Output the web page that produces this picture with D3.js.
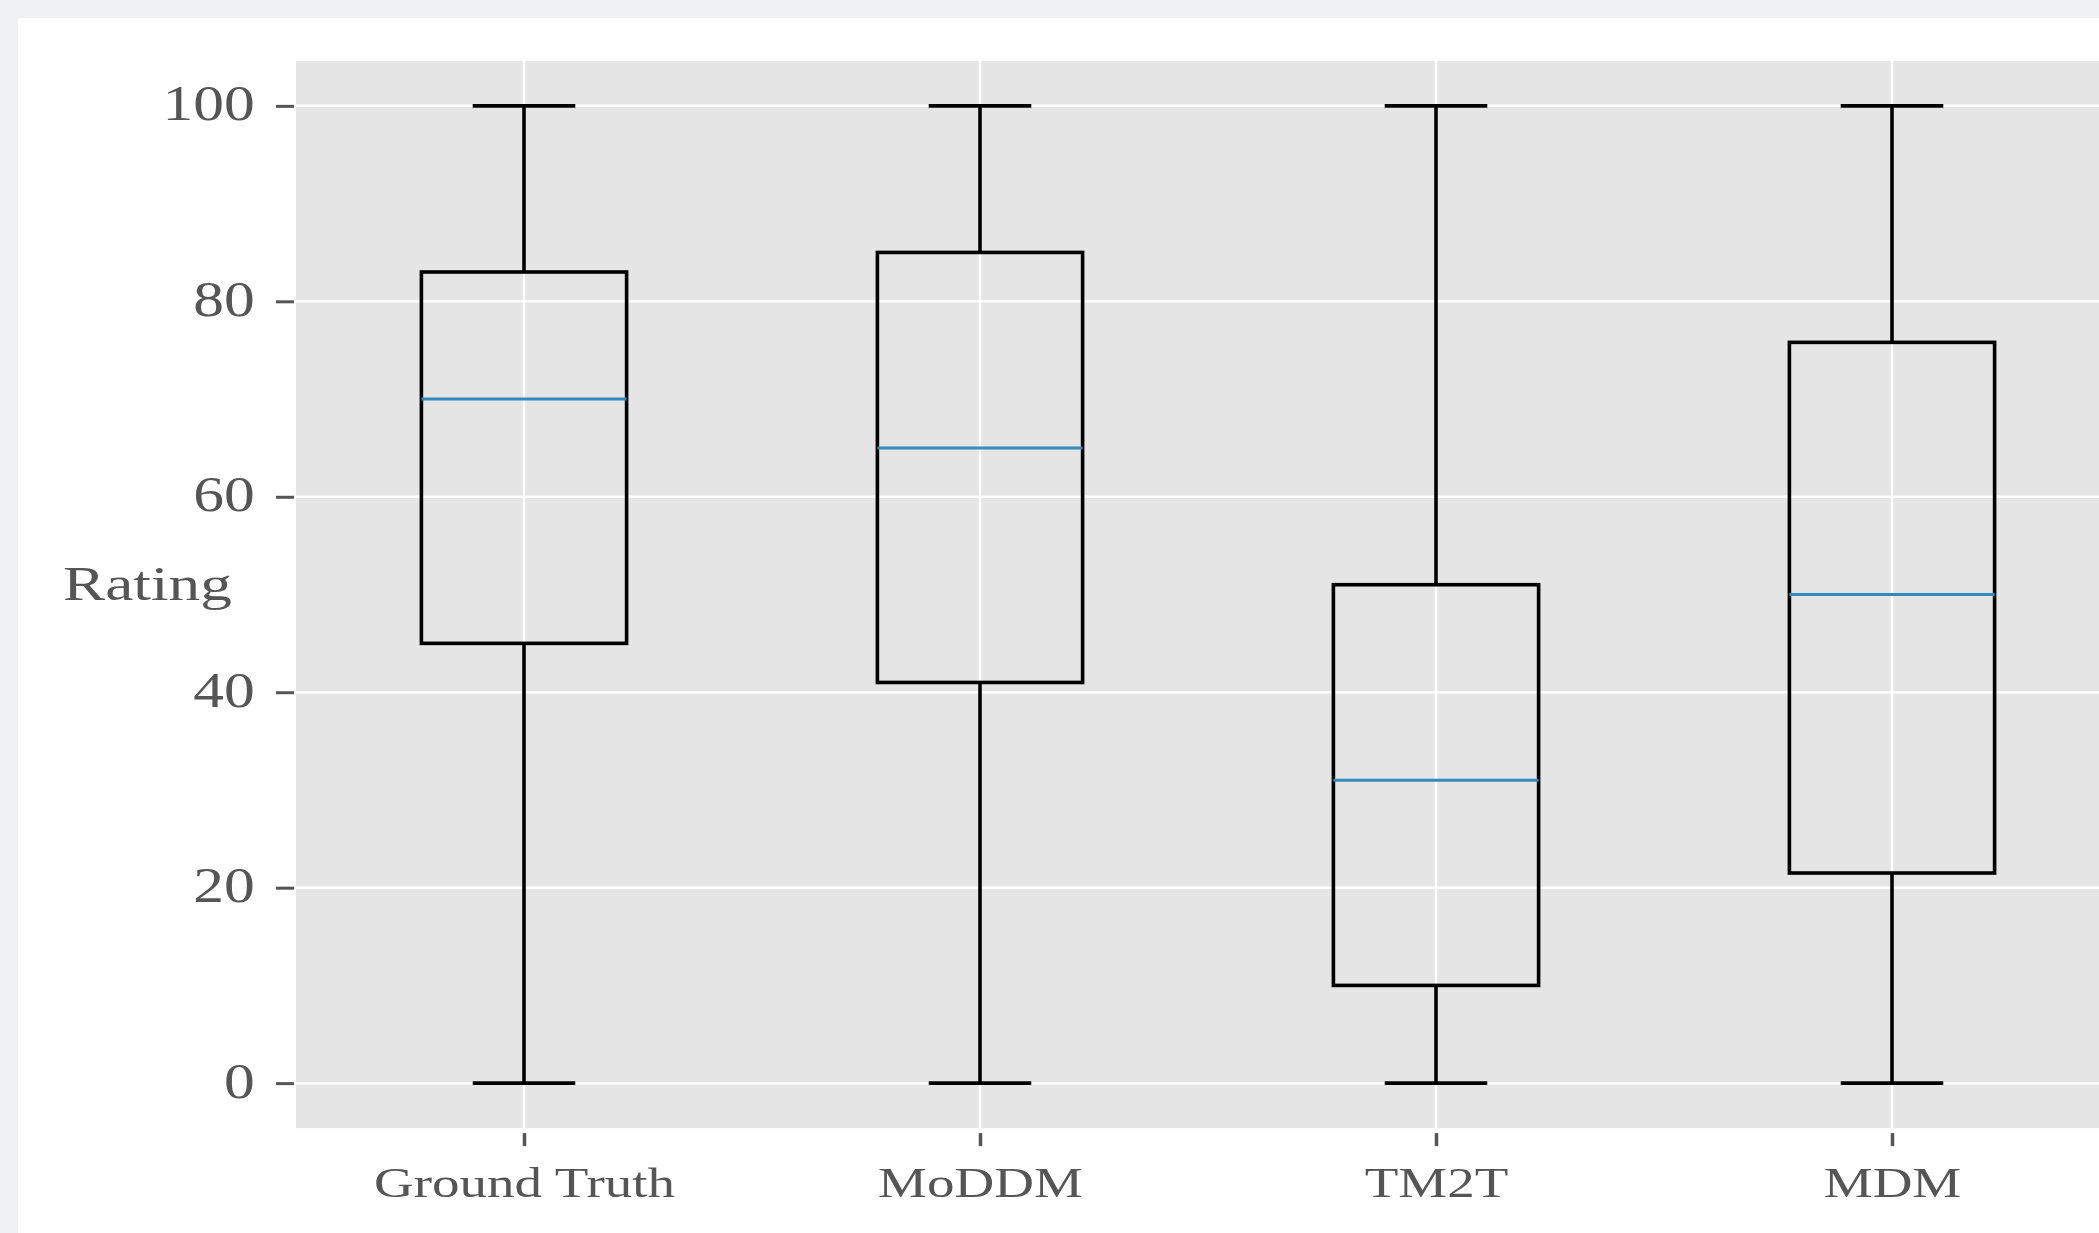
<!DOCTYPE html>
<html>
<head>
<meta charset="utf-8">
<script src="https://cdn.jsdelivr.net/npm/d3@7"></script>
<style>
  html, body { margin: 0; padding: 0; background: #f0f1f3; }
  svg { display: block; }
</style>
</head>
<body>
<svg id="chart" width="2099" height="1233"></svg>
<script>
const categories = ["Ground Truth", "MoDDM", "TM2T", "MDM"];
const whiskerLow = [0, 0, 0, 0];
const q1 = [45, 41, 10, 21.5];
const median = [70, 65, 31, 50];
const q3 = [83, 85, 51, 75.8];
const whiskerHigh = [100, 100, 100, 100];
const yTicks = [0, 20, 40, 60, 80, 100];
const yLabel = "Rating";

const W = 2099, H = 1233;
const svg = d3.select("#chart");

// white figure panel
svg.append("rect").attr("x", 18).attr("y", 18).attr("width", W - 18).attr("height", H - 18).attr("fill", "#ffffff");

const x = d3.scaleLinear().domain([0.5, 4.5]).range([296, 2120]);
const y = d3.scaleLinear().domain([-5, 105]).range([1132, 57]);

const data = categories.map((c, i) => ({
  name: c, pos: i + 1,
  lo: whiskerLow[i], q1: q1[i], med: median[i], q3: q3[i], hi: whiskerHigh[i]
}));

const boxW = x(1.45) - x(1);   // full box width in px
const capW = boxW / 2;
const yTop = 104.6, yBot = -4.6;

// axes background
svg.append("rect")
  .attr("x", x(0.5)).attr("y", y(yTop))
  .attr("width", x(4.5) - x(0.5)).attr("height", y(yBot) - y(yTop))
  .attr("fill", "#e5e5e5");

// grid
const grid = svg.append("g");
grid.selectAll("line.h").data(yTicks).join("line")
  .attr("x1", x(0.5)).attr("x2", x(4.5))
  .attr("y1", d => y(d)).attr("y2", d => y(d))
  .attr("stroke", "#ffffff").attr("stroke-width", 2.5);
grid.selectAll("line.v").data(data).join("line")
  .attr("x1", d => x(d.pos)).attr("x2", d => x(d.pos))
  .attr("y1", y(yTop)).attr("y2", y(yBot))
  .attr("stroke", "#ffffff").attr("stroke-width", 2.5);

// y axis ticks and labels
const yAxis = svg.append("g").attr("transform", `translate(${x(0.5) - 2},0)`)
  .call(d3.axisLeft(y).tickValues(yTicks).tickSize(18).tickPadding(14).tickFormat(d3.format("d")));
yAxis.select(".domain").remove();
yAxis.selectAll(".tick line").attr("stroke", "#555555").attr("stroke-width", 3);
yAxis.selectAll(".tick text")
  .attr("fill", "#555555")
  .attr("font-family", "'Liberation Serif', 'Times New Roman', serif")
  .attr("font-size", 50)
  .attr("dy", null).attr("y", 0)
  .attr("dominant-baseline", "central")
  .attr("text-anchor", "end")
  .attr("transform", "translate(0,-3) scale(1.23,1)");

// x axis ticks and labels
const xAxis = svg.append("g").attr("transform", `translate(0,${y(yBot) + 5})`)
  .call(d3.axisBottom(x).tickValues(data.map(d => d.pos)).tickSize(13).tickPadding(0).tickFormat((d, i) => categories[i]));
xAxis.select(".domain").remove();
xAxis.selectAll(".tick line").attr("stroke", "#555555").attr("stroke-width", 3.5);
xAxis.selectAll(".tick text")
  .attr("fill", "#555555")
  .attr("font-family", "'Liberation Serif', 'Times New Roman', serif")
  .attr("font-size", 42)
  .attr("dy", null).attr("y", 0)
  .attr("transform", "translate(0,64) scale(1.31,1)");

// y label
svg.append("text")
  .attr("transform", "translate(63,600) scale(1.32,1)")
  .attr("fill", "#555555")
  .attr("font-family", "'Liberation Serif', 'Times New Roman', serif")
  .attr("font-size", 48)
  .text(yLabel);

// boxes
const g = svg.append("g");
const bp = g.selectAll("g.box").data(data).join("g").attr("class", "box");
const lw = 3.6;
// whiskers
bp.append("line").attr("x1", d => x(d.pos)).attr("x2", d => x(d.pos))
  .attr("y1", d => y(d.lo)).attr("y2", d => y(d.q1))
  .attr("stroke", "#000").attr("stroke-width", lw);
bp.append("line").attr("x1", d => x(d.pos)).attr("x2", d => x(d.pos))
  .attr("y1", d => y(d.q3)).attr("y2", d => y(d.hi))
  .attr("stroke", "#000").attr("stroke-width", lw);
// caps
bp.append("line").attr("x1", d => x(d.pos) - capW / 2).attr("x2", d => x(d.pos) + capW / 2)
  .attr("y1", d => y(d.lo)).attr("y2", d => y(d.lo))
  .attr("stroke", "#000").attr("stroke-width", lw);
bp.append("line").attr("x1", d => x(d.pos) - capW / 2).attr("x2", d => x(d.pos) + capW / 2)
  .attr("y1", d => y(d.hi)).attr("y2", d => y(d.hi))
  .attr("stroke", "#000").attr("stroke-width", lw);
// box
bp.append("rect")
  .attr("x", d => x(d.pos) - boxW / 2).attr("width", boxW)
  .attr("y", d => y(d.q3)).attr("height", d => y(d.q1) - y(d.q3))
  .attr("fill", "none").attr("stroke", "#000").attr("stroke-width", lw);
// median
bp.append("line").attr("x1", d => x(d.pos) - boxW / 2).attr("x2", d => x(d.pos) + boxW / 2)
  .attr("y1", d => y(d.med)).attr("y2", d => y(d.med))
  .attr("stroke", "#348ABD").attr("stroke-width", 3);
</script>
</body>
</html>
